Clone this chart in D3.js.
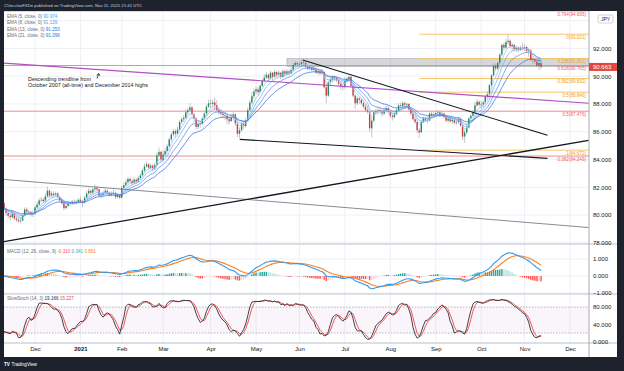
<!DOCTYPE html>
<html>
<head>
<meta charset="utf-8">
<script src="https://cdn.jsdelivr.net/npm/d3@7"></script>
<style>
  body { margin: 0; background: #1e222d; }
  svg { display: block; font-family: "Liberation Sans", Arial, sans-serif; }
</style>
</head>
<body>
<svg id="chart" width="624" height="371"></svg>
<script>
// ---- data: CAD/JPY daily, 10 Nov 2020 .. 11 Nov 2021 ----
const firstDay = "2020-11-10";
const lastAxisDay = "2021-12-31";
const holidays = ["2020-12-25", "2021-01-01"];
const firstOpen = 80.85;

const closes = [
  80.45, 80.15, 79.95, 79.85, 80.10, 79.75, 79.65, 79.55, 79.60, 79.95, 80.40, 80.25, 80.20, 80.05, 80.10, // Nov
  80.55, 80.75, 81.05, 81.10, 81.00, 81.35, 81.75, 81.40, 81.55, 81.45, 81.55, 81.30, 81.05, 80.85, 80.50, 80.65, 80.85, 80.80, 80.95, 80.85, 80.95, 81.10, // Dec
  80.95, 80.90, 81.25, 81.55, 81.75, 81.60, 81.85, 81.95, 81.85, 81.40, 81.45, 81.60, 81.75, 81.60, 81.45, 81.55, 81.60, 81.30, 81.45, 81.25, // Jan
  81.95, 82.15, 82.35, 82.60, 82.45, 82.30, 82.55, 82.40, 82.65, 82.85, 83.20, 83.50, 83.65, 83.40, 83.55, 83.35, 83.60, 84.30, 84.55, 83.95, // Feb
  84.35, 84.60, 84.95, 85.45, 85.80, 86.05, 85.85, 86.15, 86.70, 86.90, 87.00, 87.40, 87.55, 87.75, 87.25, 86.95, 86.35, 86.55, 86.60, 86.95, 87.30, 87.80, 88.05, // Mar
  88.00, 88.10, 87.90, 87.55, 87.40, 87.30, 87.20, 87.15, 86.90, 86.75, 87.05, 87.25, 86.60, 85.85, 86.10, 86.55, 86.40, 86.80, 87.55, 88.10, 88.55, 88.90, // Apr
  89.05, 88.85, 89.30, 89.65, 89.90, 90.10, 89.85, 90.25, 89.95, 90.30, 90.10, 90.25, 89.95, 90.35, 90.15, 90.35, 90.20, 90.45, 90.80, 90.95, 90.85, // May
  90.85, 91.00, 90.95, 90.70, 90.55, 90.65, 90.45, 90.55, 90.25, 90.35, 90.20, 90.30, 89.20, 88.60, 89.55, 89.75, 89.90, 89.85, 89.70, 89.45, 89.25, 89.20, // Jun
  89.65, 89.80, 89.95, 89.30, 88.60, 88.05, 88.40, 88.30, 88.05, 87.80, 87.55, 87.45, 86.25, 86.80, 87.40, 87.50, 87.55, 87.50, 87.30, 87.55, 87.70, 87.45, // Jul
  87.15, 87.05, 87.25, 87.55, 87.90, 87.85, 88.05, 87.95, 88.00, 87.60, 87.30, 86.90, 86.70, 86.10, 85.95, 86.70, 86.95, 86.85, 86.80, 87.30, 87.20, 87.25, // Aug
  87.35, 87.40, 87.15, 87.30, 87.05, 86.80, 86.95, 86.75, 86.85, 86.65, 86.70, 86.90, 86.45, 85.65, 85.95, 86.30, 86.95, 87.15, 87.40, 87.90, 88.15, 87.95, // Sep
  87.95, 88.10, 88.55, 88.70, 89.35, 90.05, 90.75, 90.55, 90.95, 91.55, 92.25, 92.05, 92.45, 92.55, 92.15, 92.25, 91.95, 92.05, 91.90, 92.05, 92.00, // Oct
  92.10, 91.80, 91.85, 91.20, 91.15, 91.05, 90.75, 90.95, 90.663 // Nov
];
const highs = [
  80.95, 80.55, 80.30, 80.10, 80.35, 80.15, 79.95, 79.80, 79.80, 80.10, 80.55, 80.55, 80.35, 80.30, 80.30,
  80.70, 80.95, 81.20, 81.30, 81.25, 81.55, 82.05, 81.85, 81.70, 81.70, 81.70, 81.65, 81.40, 81.15, 80.95, 80.85, 80.95, 80.95, 81.10, 81.10, 81.10, 81.20,
  81.35, 81.10, 81.40, 81.75, 81.95, 81.85, 81.95, 82.20, 82.10, 81.90, 81.60, 81.75, 81.90, 81.85, 81.70, 81.70, 81.80, 81.70, 81.60, 81.55,
  82.10, 82.35, 82.55, 82.75, 82.70, 82.60, 82.70, 82.65, 82.80, 83.00, 83.35, 83.70, 83.85, 83.75, 83.70, 83.65, 83.75, 84.50, 84.85, 84.60,
  84.65, 84.80, 85.10, 85.60, 85.95, 86.20, 86.20, 86.35, 86.85, 87.05, 87.20, 87.60, 87.75, 88.05, 87.85, 87.35, 87.00, 86.80, 86.80, 87.10, 87.45, 87.95, 88.30,
  88.35, 88.30, 88.45, 88.25, 87.75, 87.60, 87.45, 87.35, 87.20, 87.05, 87.30, 87.45, 87.30, 86.70, 86.30, 86.70, 86.75, 87.00, 87.75, 88.30, 88.85, 89.10,
  89.25, 89.20, 89.45, 89.80, 90.15, 90.30, 90.20, 90.40, 90.30, 90.45, 90.35, 90.40, 90.30, 90.50, 90.45, 90.50, 90.45, 90.60, 90.95, 91.10, 91.05,
  91.05, 91.15, 91.20, 91.00, 90.80, 90.80, 90.75, 90.70, 90.60, 90.45, 90.45, 90.50, 90.35, 89.45, 89.65, 89.85, 90.05, 90.05, 89.95, 89.80, 89.55, 89.40,
  89.90, 89.95, 90.05, 90.00, 89.35, 88.70, 88.55, 88.50, 88.40, 88.25, 88.00, 87.90, 87.50, 87.05, 87.55, 87.65, 87.80, 87.80, 87.65, 87.75, 87.90, 87.85,
  87.50, 87.25, 87.40, 87.70, 88.05, 88.10, 88.20, 88.15, 88.10, 88.05, 87.65, 87.45, 87.10, 86.85, 86.25, 86.80, 87.10, 87.05, 87.10, 87.45, 87.45, 87.40,
  87.50, 87.55, 87.45, 87.45, 87.40, 87.15, 87.10, 87.05, 87.00, 87.00, 86.90, 87.05, 86.95, 86.55, 86.15, 86.55, 87.05, 87.30, 87.55, 88.15, 88.35, 88.25,
  88.20, 88.25, 88.65, 88.90, 89.45, 90.15, 90.95, 90.90, 91.05, 91.65, 92.35, 92.40, 92.70, 93.02, 92.65, 92.40, 92.35, 92.20, 92.15, 92.20, 92.40,
  92.30, 92.20, 92.05, 91.95, 91.45, 91.30, 91.20, 91.35, 91.20
];
const lows = [
  80.30, 79.95, 79.75, 79.60, 79.75, 79.65, 79.50, 79.45, 79.40, 79.55, 79.90, 80.10, 80.10, 79.90, 79.85,
  80.00, 80.45, 80.65, 80.90, 80.85, 80.90, 81.30, 81.25, 81.25, 81.30, 81.35, 81.20, 80.95, 80.75, 80.35, 80.40, 80.55, 80.65, 80.70, 80.75, 80.75, 80.85,
  80.85, 80.55, 80.80, 81.20, 81.45, 81.45, 81.50, 81.75, 81.70, 81.30, 81.25, 81.35, 81.50, 81.45, 81.35, 81.35, 81.40, 81.15, 81.20, 81.15,
  81.20, 81.85, 82.05, 82.25, 82.30, 82.15, 82.25, 82.25, 82.35, 82.55, 82.80, 83.10, 83.40, 83.25, 83.30, 83.15, 83.25, 83.50, 84.15, 83.80,
  83.85, 84.25, 84.50, 84.90, 85.30, 85.65, 85.55, 85.80, 86.10, 86.55, 86.70, 86.90, 87.20, 87.45, 87.10, 86.70, 86.15, 86.20, 86.30, 86.50, 86.85, 87.20, 87.70,
  87.70, 87.75, 87.55, 87.45, 87.20, 87.10, 86.95, 86.85, 86.55, 86.50, 86.75, 86.80, 86.40, 85.60, 85.55, 86.00, 86.20, 86.30, 86.70, 87.45, 87.95, 88.35,
  88.70, 88.60, 88.80, 89.20, 89.55, 89.80, 89.60, 89.75, 89.70, 89.90, 89.95, 90.00, 89.75, 89.85, 89.95, 90.05, 90.05, 90.15, 90.35, 90.70, 90.70,
  90.65, 90.75, 90.75, 90.55, 90.40, 90.45, 90.35, 90.35, 90.15, 90.10, 90.05, 90.10, 89.10, 88.05, 88.50, 89.35, 89.55, 89.65, 89.55, 89.30, 89.05, 88.95,
  89.10, 89.55, 89.70, 89.20, 88.45, 87.65, 87.90, 88.00, 87.95, 87.65, 87.40, 87.30, 86.00, 85.60, 86.70, 87.20, 87.25, 87.30, 87.10, 87.20, 87.40, 87.30,
  87.00, 86.80, 86.95, 87.20, 87.45, 87.70, 87.75, 87.75, 87.80, 87.50, 87.15, 86.80, 86.55, 85.90, 85.55, 85.95, 86.60, 86.70, 86.60, 86.75, 87.00, 87.05,
  87.05, 87.20, 87.05, 87.05, 86.95, 86.70, 86.65, 86.65, 86.55, 86.50, 86.45, 86.55, 86.35, 85.40, 85.20, 85.80, 86.25, 86.85, 87.05, 87.30, 87.80, 87.80,
  87.65, 87.75, 88.00, 88.35, 88.60, 89.25, 90.00, 90.35, 90.45, 90.85, 91.45, 91.85, 91.95, 92.30, 92.00, 91.85, 91.80, 91.75, 91.70, 91.80, 91.85,
  91.85, 91.65, 91.40, 91.05, 90.85, 90.85, 90.65, 90.45, 90.50
];

// month labels on the time axis
const monthStarts = ["2020-12-01", "2021-01-04", "2021-02-01", "2021-03-01", "2021-04-01", "2021-05-03",
  "2021-06-01", "2021-07-01", "2021-08-02", "2021-09-01", "2021-10-01", "2021-11-01", "2021-12-01"];
const monthLabels = ["Dec", "2021", "Feb", "Mar", "Apr", "May", "Jun", "Jul", "Aug", "Sep", "Oct", "Nov", "Dec"];

const priceTicks = [78, 80, 82, 84, 86, 88, 90, 92, 94];
const priceLabelTicks = [78, 80, 82, 84, 86, 88, 90, 92]; // 94.000 sits under the JPY tag
const macdTicks = [1, 0, -1];
const stochTicks = [80, 40, 0];

// legend values as printed on the chart
const emaLengths = [5, 8, 13, 21];
const emaLegendValues = ["90.974", "91.139", "91.253", "91.096"];
const macdLegendValues = ["-0.310", "0.341", "0.651"];
const stochLegendValues = ["19.166", "15.227"];

// fibonacci drawings: [ratio, price]
const redFibRatios = ["0.764", "0.618", "0.5", "0.382"];
const redFibPrices = [94.695, 90.765, 87.476, 84.249];
const orangeFibRatios = ["0", "0.236", "0.382", "0.5", "1"];
const orangeFibPrices = [93.021, 91.261, 89.832, 88.846, 84.672];
const orangeFibStart = "2021-08-20";
const zoneStart = "2021-05-24";
const zonePrices = [91.261, 90.69];

// trendlines as [bar index, price] pairs
const purpleLine = [[0, 90.94], [283, 88.05]];
const risingLine = [[0, 78.09], [283, 85.38]];
const greyLine = [[0, 82.56], [283, 79.10]];
const juneLine = [[144.6, 91.16], [263.1, 85.74]];
const aprilLine = [[114.1, 85.45], [263.1, 84.08]];

const emaColors = ["#9cc6f7", "#7fb1f3", "#5f97ea", "#3f7adf"];
const legendColors = ["#4aa3f0", "#4aa3f0", "#2f6fe0", "#2f6fe0"];

// ---- trading calendar ----
const parse = d3.utcParse("%Y-%m-%d");
const fmt = d3.utcFormat("%Y-%m-%d");
const days = d3.utcDay.range(parse(firstDay), d3.utcDay.offset(parse(lastAxisDay), 1))
  .filter(d => d.getUTCDay() !== 0 && d.getUTCDay() !== 6 && !holidays.includes(fmt(d)))
  .map(fmt);
const dayIndex = s => days.indexOf(s);

const bars = closes.map((c, i) => {
  const o = i === 0 ? firstOpen : closes[i - 1];
  return { i: i, o: o, c: c, h: Math.max(highs[i], o, c), l: Math.min(lows[i], o, c) };
});

// ---- indicators ----
function ema(vals, n) {
  const k = 2 / (n + 1);
  let prev = vals[0];
  return vals.map((v, i) => (prev = i === 0 ? v : v * k + prev * (1 - k)));
}
function sma(vals, n) {
  return vals.map((v, i) => d3.mean(vals.slice(Math.max(0, i - n + 1), i + 1)));
}
const emas = emaLengths.map(n => ema(closes, n));
const ema12 = ema(closes, 12), ema26 = ema(closes, 26);
const macd = closes.map((c, i) => ema12[i] - ema26[i]);
const signal = ema(macd, 9);
const hist = macd.map((m, i) => m - signal[i]);
const fastK = closes.map((c, i) => {
  const lo = d3.min(lows.slice(Math.max(0, i - 13), i + 1));
  const hi = d3.max(highs.slice(Math.max(0, i - 13), i + 1));
  return hi === lo ? 50 : 100 * (c - lo) / (hi - lo);
});
const slowK = sma(fastK, 3);
const slowD = sma(slowK, 3);

// ---- layout ----
const plotL = 4, plotR = 589, axisR = 617;
const mainTop = 11, mainBot = 244, macdBot = 294, stochBot = 343, timeBot = 357;

const svg = d3.select("#chart");
const x = d3.scaleLinear().domain([dayIndex("2020-12-01"), dayIndex("2021-12-01")]).range([35, 570]);
const y = d3.scaleLinear().domain([78, 94]).range([242.8, 20.6]);
const yM = d3.scaleLinear().domain([-1, 1]).range([293, 259]);
const yS = d3.scaleLinear().domain([0, 100]).range([341.7, 298.4]);

svg.append("rect").attr("x", plotL).attr("y", mainTop).attr("width", axisR - plotL)
  .attr("height", timeBot - mainTop).attr("fill", "#ffffff");

const defs = svg.append("defs");
[["clipMain", mainTop, mainBot], ["clipMacd", mainBot, macdBot], ["clipStoch", macdBot, stochBot]]
  .forEach(([id, t, b]) => defs.append("clipPath").attr("id", id).append("rect")
    .attr("x", plotL).attr("y", t).attr("width", plotR - plotL).attr("height", b - t));

// grid
const grid = svg.append("g").attr("stroke", "#eef0f6").attr("stroke-width", 1);
monthStarts.forEach(s => grid.append("line").attr("x1", x(dayIndex(s))).attr("x2", x(dayIndex(s)))
  .attr("y1", mainTop).attr("y2", stochBot));
priceTicks.forEach(p => grid.append("line").attr("x1", plotL).attr("x2", plotR).attr("y1", y(p)).attr("y2", y(p)));
macdTicks.forEach(p => grid.append("line").attr("x1", plotL).attr("x2", plotR).attr("y1", yM(p)).attr("y2", yM(p)));

// ---- main pane ----
const gMain = svg.append("g").attr("clip-path", "url(#clipMain)");

// shaded zone
gMain.append("rect").attr("x", x(dayIndex(zoneStart))).attr("width", plotR - x(dayIndex(zoneStart)))
  .attr("y", y(zonePrices[0])).attr("height", y(zonePrices[1]) - y(zonePrices[0]))
  .attr("fill", "#787b86").attr("fill-opacity", 0.3).attr("stroke", "#9598a1").attr("stroke-width", 0.5);

// red fib (full width)
redFibPrices.forEach((p, i) => {
  gMain.append("line").attr("x1", plotL).attr("x2", plotR).attr("y1", y(p)).attr("y2", y(p))
    .attr("stroke", "#f28b8f").attr("stroke-width", 1);
  gMain.append("text").attr("x", 586).attr("y", y(p) + 4.6).attr("text-anchor", "end")
    .attr("font-size", 4.6).attr("fill", "#f05a64").text(`${redFibRatios[i]}(${p.toFixed(3)})`);
});
// orange fib
const ofx = x(dayIndex(orangeFibStart));
orangeFibPrices.forEach((p, i) => {
  gMain.append("line").attr("x1", ofx).attr("x2", plotR).attr("y1", y(p)).attr("y2", y(p))
    .attr("stroke", "#f9c46b").attr("stroke-width", 1);
  gMain.append("text").attr("x", 586).attr("y", y(p) + 4.6).attr("text-anchor", "end")
    .attr("font-size", 4.6).attr("fill", "#f0a020").text(`${orangeFibRatios[i]}(${p.toFixed(3)})`);
});

// candles
gMain.selectAll("line.wick").data(bars).join("line").attr("class", "wick")
  .attr("x1", d => x(d.i)).attr("x2", d => x(d.i))
  .attr("y1", d => y(d.h)).attr("y2", d => y(d.l))
  .attr("stroke", "#9a9da5").attr("stroke-width", 0.6);
gMain.selectAll("rect.body").data(bars).join("rect").attr("class", "body")
  .attr("x", d => x(d.i) - 0.7).attr("width", 1.4)
  .attr("y", d => y(Math.max(d.o, d.c)))
  .attr("height", d => Math.max(0.7, Math.abs(y(d.o) - y(d.c))))
  .attr("fill", d => d.c >= d.o ? "#1f8a5e" : "#d03a3a");

// EMAs
const emaLine = d3.line().x((d, i) => x(i)).y(d => y(d));
emas.forEach((e, k) => gMain.append("path").attr("d", emaLine(e)).attr("fill", "none")
  .attr("stroke", emaColors[k]).attr("stroke-width", 0.8));

// trendlines
const seg = (pts, color, w) => gMain.append("line")
  .attr("x1", x(pts[0][0])).attr("y1", y(pts[0][1])).attr("x2", x(pts[1][0])).attr("y2", y(pts[1][1]))
  .attr("stroke", color).attr("stroke-width", w);
seg(purpleLine, "#b04fc4", 1.2);
seg(greyLine, "#6a6d78", 0.8);
seg(risingLine, "#131722", 1.3);
seg(juneLine, "#131722", 1.1);
seg(aprilLine, "#131722", 1.1);

// annotation
const note = svg.append("g").attr("font-size", 5.4).attr("fill", "#131722");
note.append("text").attr("x", 28).attr("y", 81).text("Descending trendline from");
note.append("text").attr("x", 28).attr("y", 87).text("October 2007 (all-time) and December 2014 highs");
note.append("path").attr("d", "M97,78.5 L98.5,74 M96.8,75.4 L98.7,73.4 L99.8,75.8")
  .attr("stroke", "#131722").attr("stroke-width", 0.8).attr("fill", "none");

// EMA legend
const leg = svg.append("g").attr("font-size", 4.6);
emaLengths.forEach((n, k) => {
  const t = leg.append("text").attr("x", 7).attr("y", 17.5 + k * 6.6).attr("fill", "#6a6d78");
  t.append("tspan").text(`EMA (${n}, close, 0)  `);
  t.append("tspan").attr("fill", legendColors[k]).text(emaLegendValues[k]);
});

// ---- MACD pane ----
const gMacd = svg.append("g").attr("clip-path", "url(#clipMacd)");
const histColor = (h, i) => {
  const p = i > 0 ? hist[i - 1] : h;
  if (h >= 0) return h >= p ? "#26a69a" : "#b2dfdb";
  return h < p ? "#ff5252" : "#ffcdd2";
};
gMacd.selectAll("rect").data(hist).join("rect")
  .attr("x", (d, i) => x(i) - 0.7).attr("width", 1.4)
  .attr("y", d => Math.min(yM(d), yM(0))).attr("height", d => Math.abs(yM(d) - yM(0)))
  .attr("fill", histColor);
const mLine = d3.line().x((d, i) => x(i)).y(d => yM(d));
gMacd.append("path").attr("d", mLine(signal)).attr("fill", "none").attr("stroke", "#ff7f1a").attr("stroke-width", 1.1);
gMacd.append("path").attr("d", mLine(macd)).attr("fill", "none").attr("stroke", "#2f9bf0").attr("stroke-width", 1.1);

const ml = svg.append("text").attr("x", 7).attr("y", 252.5).attr("font-size", 4.6).attr("fill", "#6a6d78");
ml.append("tspan").text("MACD (12, 26, close, 9)  ");
ml.append("tspan").attr("fill", "#ff5252").text(macdLegendValues[0] + "  ");
ml.append("tspan").attr("fill", "#2f9bf0").text(macdLegendValues[1] + "  ");
ml.append("tspan").attr("fill", "#ff7f1a").text(macdLegendValues[2]);

// ---- Stochastic pane ----
const gSt = svg.append("g").attr("clip-path", "url(#clipStoch)");
gSt.append("rect").attr("x", plotL).attr("width", plotR - plotL).attr("y", yS(80)).attr("height", yS(20) - yS(80))
  .attr("fill", "#9c27b0").attr("fill-opacity", 0.05);
[80, 20].forEach(v => gSt.append("line").attr("x1", plotL).attr("x2", plotR).attr("y1", yS(v)).attr("y2", yS(v))
  .attr("stroke", "#a3a6af").attr("stroke-width", 0.8).attr("stroke-dasharray", "1.5,1.5"));
const sLine = d3.line().x((d, i) => x(i)).y(d => yS(d));
gSt.append("path").attr("d", sLine(slowD)).attr("fill", "none").attr("stroke", "#f04848").attr("stroke-width", 0.9);
gSt.append("path").attr("d", sLine(slowK)).attr("fill", "none").attr("stroke", "#2a2e39").attr("stroke-width", 0.9);

const sl = svg.append("text").attr("x", 7).attr("y", 300).attr("font-size", 4.6).attr("fill", "#6a6d78");
sl.append("tspan").text("SlowStoch (14, 3)  ");
sl.append("tspan").attr("fill", "#2a2e39").text(stochLegendValues[0] + "  ");
sl.append("tspan").attr("fill", "#f04848").text(stochLegendValues[1]);

// ---- separators and axes ----
const sep = svg.append("g").attr("stroke", "#d1d4dc").attr("stroke-width", 1.6);
[mainBot, macdBot, stochBot].forEach(v => sep.append("line").attr("x1", plotL).attr("x2", axisR).attr("y1", v).attr("y2", v));
svg.append("line").attr("x1", plotR).attr("x2", plotR).attr("y1", mainTop).attr("y2", timeBot)
  .attr("stroke", "#9598a1").attr("stroke-width", 0.8);

function rightAxis(scale, ticks, f) {
  const g = svg.append("g").attr("transform", `translate(${plotR},0)`)
    .call(d3.axisRight(scale).tickValues(ticks).tickSize(0).tickPadding(4).tickFormat(f));
  g.select(".domain").remove();
  g.selectAll("text").attr("font-size", 6).attr("fill", "#131722").attr("font-family", "Liberation Sans, Arial, sans-serif");
  return g;
}
rightAxis(y, priceLabelTicks, d3.format(".3f"));
rightAxis(yM, macdTicks, d3.format(".3f"));
rightAxis(yS, stochTicks, d3.format(".3f"));

const tAxis = svg.append("g").attr("transform", `translate(0,${stochBot + 1})`)
  .call(d3.axisBottom(x).tickValues(monthStarts.map(dayIndex)).tickSize(0).tickPadding(3)
    .tickFormat((d, i) => monthLabels[i]));
tAxis.select(".domain").remove();
tAxis.selectAll("text").attr("font-size", 6).attr("fill", "#131722")
  .attr("font-family", "Liberation Sans, Arial, sans-serif")
  .attr("font-weight", (d, i) => monthLabels[i] === "2021" ? "bold" : "normal");

// currency label and last-price tag
svg.append("rect").attr("x", 598).attr("y", 15).attr("width", 15).attr("height", 8).attr("rx", 2)
  .attr("fill", "#ffffff").attr("stroke", "#b2b5be").attr("stroke-width", 0.6);
svg.append("text").attr("x", 605.5).attr("y", 21).attr("text-anchor", "middle").attr("font-size", 5)
  .attr("fill", "#131722").text("JPY");
const last = closes[closes.length - 1];
svg.append("rect").attr("x", plotR).attr("y", y(last) - 4).attr("width", axisR - plotR).attr("height", 8)
  .attr("fill", "#e2463c");
svg.append("text").attr("x", 593).attr("y", y(last) + 2.2).attr("font-size", 6).attr("fill", "#ffffff")
  .text(last.toFixed(3));

// header and footer
svg.append("text").attr("x", 4).attr("y", 7).attr("font-size", 4.3).attr("fill", "#d1d4dc")
  .text("CVecchioFXDe published on TradingView.com, Nov 11, 2021 21:41 UTC");
svg.append("text").attr("x", 4).attr("y", 366).attr("font-size", 4.6).attr("font-weight", "bold")
  .attr("fill", "#ffffff").text("TV");
svg.append("text").attr("x", 11.5).attr("y", 366).attr("font-size", 4.6).attr("fill", "#ffffff").text("TradingView");
</script>
</body>
</html>
